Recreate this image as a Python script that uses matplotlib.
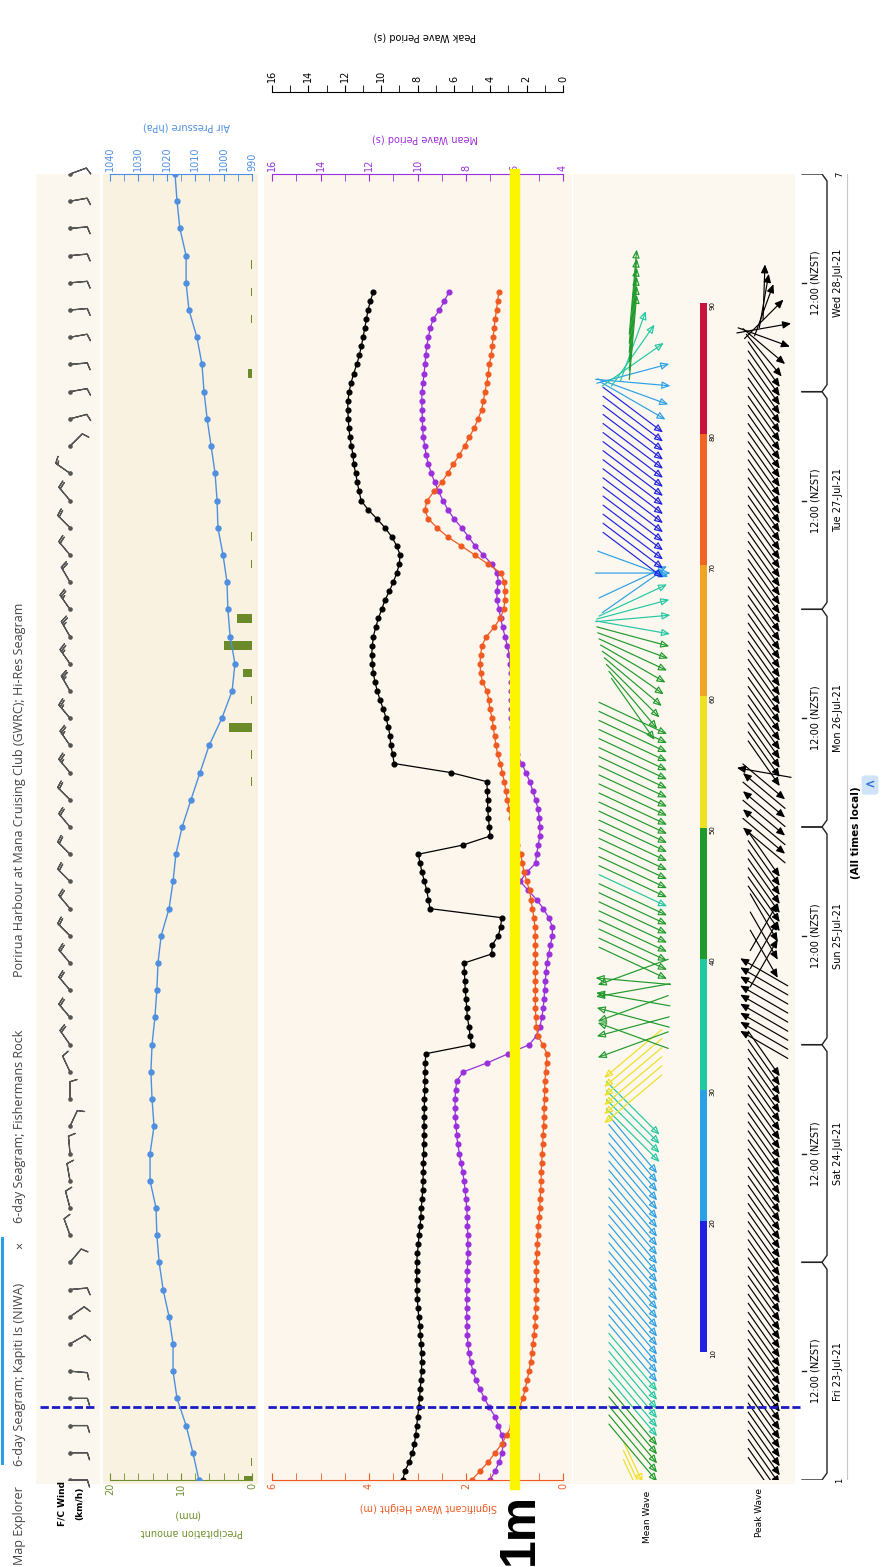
import numpy as np
import matplotlib
matplotlib.use("Agg")
import matplotlib.pyplot as plt
from matplotlib.patches import Rectangle, FancyArrowPatch
from matplotlib.colors import ListedColormap, BoundaryNorm
from matplotlib.cm import ScalarMappable

# ---------------- data (hours from Fri 23-Jul 00:00 NZST) ----------------
hours = np.arange(132)
hs = [1.88, 1.71, 1.54, 1.40, 1.26, 1.16, 1.06, 0.98, 0.90, 0.83,
      0.78, 0.74, 0.70, 0.67, 0.64, 0.62, 0.60, 0.58, 0.57, 0.56,
      0.56, 0.55, 0.55, 0.55, 0.55, 0.54, 0.53, 0.52, 0.51, 0.49,
      0.48, 0.47, 0.46, 0.45, 0.45, 0.44, 0.43, 0.42, 0.41, 0.40,
      0.39, 0.39, 0.38, 0.38, 0.37, 0.36, 0.34, 0.33, 0.42, 0.52,
      0.55, 0.56, 0.57, 0.57, 0.57, 0.57, 0.57, 0.57, 0.57, 0.57,
      0.57, 0.58, 0.60, 0.63, 0.66, 0.69, 0.75, 0.80, 0.84, 0.87,
      0.94, 0.99, 1.04, 1.08, 1.11, 1.15, 1.18, 1.21, 1.25, 1.29,
      1.35, 1.38, 1.41, 1.44, 1.46, 1.51, 1.53, 1.57, 1.66, 1.70,
      1.71, 1.70, 1.67, 1.58, 1.42, 1.30, 1.22, 1.20, 1.20, 1.21,
      1.28, 1.55, 1.82, 2.10, 2.38, 2.60, 2.78, 2.85, 2.80, 2.66,
      2.50, 2.38, 2.26, 2.14, 2.03, 1.93, 1.83, 1.75, 1.68, 1.64,
      1.61, 1.57, 1.54, 1.52, 1.48, 1.46, 1.44, 1.42, 1.40, 1.37,
      1.35, 1.32]
tm = [7.01, 6.80, 6.63, 6.52, 6.46, 6.53, 6.67, 6.80, 7.04, 7.24,
      7.42, 7.59, 7.71, 7.81, 7.88, 7.92, 7.95, 7.96, 7.97, 7.97,
      7.97, 7.97, 7.96, 7.95, 7.93, 7.92, 7.92, 7.93, 7.94, 7.95,
      7.97, 8.00, 8.04, 8.08, 8.14, 8.21, 8.27, 8.34, 8.38, 8.41,
      8.44, 8.45, 8.45, 8.43, 8.38, 8.11, 7.12, 6.26, 5.39, 5.09,
      4.95, 4.87, 4.82, 4.78, 4.76, 4.73, 4.70, 4.66, 4.59, 4.52,
      4.44, 4.44, 4.59, 4.81, 5.09, 5.43, 5.77, 5.50, 5.13, 5.09,
      5.02, 4.96, 4.95, 4.98, 5.03, 5.13, 5.25, 5.37, 5.53, 5.70,
      5.91, 6.02, 6.07, 6.10, 6.13, 6.14, 6.16, 6.16, 6.16, 6.16,
      6.19, 6.21, 6.30, 6.39, 6.49, 6.57, 6.64, 6.72, 6.73, 6.67,
      6.71, 6.94, 7.29, 7.63, 7.90, 8.18, 8.50, 8.75, 8.95, 9.13,
      9.29, 9.43, 9.55, 9.64, 9.70, 9.76, 9.79, 9.80, 9.81, 9.83,
      9.81, 9.77, 9.73, 9.69, 9.66, 9.62, 9.55, 9.48, 9.35, 9.10,
      8.89, 8.70]
tp = [8.81, 8.69, 8.45, 8.28, 8.17, 8.10, 8.04, 7.99, 7.93, 7.89,
      7.85, 7.81, 7.78, 7.77, 7.78, 7.80, 7.84, 7.88, 7.93, 7.98,
      8.01, 8.03, 8.04, 8.04, 8.04, 8.01, 7.95, 7.92, 7.86, 7.82,
      7.79, 7.75, 7.71, 7.70, 7.68, 7.68, 7.66, 7.66, 7.64, 7.64,
      7.64, 7.62, 7.62, 7.60, 7.60, 7.59, 7.57, 7.55, 5.02, 5.11,
      5.17, 5.26, 5.29, 5.33, 5.37, 5.40, 5.42, 5.44, 3.92, 3.89,
      3.56, 3.43, 3.37, 7.31, 7.40, 7.49, 7.62, 7.75, 7.86, 7.95,
      5.52, 4.01, 4.05, 4.10, 4.14, 4.14, 4.16, 4.19, 6.17, 9.29,
      9.36, 9.47, 9.51, 9.60, 9.73, 9.88, 10.06, 10.21, 10.34, 10.43,
      10.48, 10.52, 10.48, 10.43, 10.30, 10.15, 9.97, 9.79, 9.55, 9.33,
      9.14, 9.00, 8.96, 9.14, 9.42, 9.79, 10.24, 10.72, 11.10, 11.21,
      11.31, 11.40, 11.51, 11.54, 11.64, 11.71, 11.78, 11.80, 11.84, 11.82,
      11.76, 11.65, 11.51, 11.34, 11.20, 11.09, 10.99, 10.90, 10.81, 10.72,
      10.59, 10.43]

p_hours = np.arange(0, 145, 3)
pressure = [1008.7, 1010.8, 1013.2, 1016.4, 1017.8, 1017.8, 1019.2, 1021.3, 1022.7, 1023.5,
            1023.8, 1025.9, 1025.9, 1024.5, 1025.2, 1025.6, 1025.2, 1024.2, 1023.5, 1023.1,
            1022.0, 1019.2, 1017.8, 1016.8, 1014.6, 1011.5, 1008.3, 1005.1, 1000.6, 997.0,
            996.0, 997.7, 998.5, 998.8, 1000.2, 1002.0, 1002.3, 1003.0, 1004.4, 1005.8,
            1006.9, 1007.6, 1009.4, 1012.2, 1013.2, 1013.2, 1015.4, 1016.4, 1017.1]
precip_hours = [0, 2, 77, 80, 83, 86, 89, 92, 95, 101, 104, 122, 128, 131, 134]
precip_mm = [1.1, 0.2, 0.2, 0.2, 3.2, 0.2, 1.3, 3.9, 2.1, 0.2, 0.2, 0.5, 0.2, 0.2, 0.2]

wind_from = [180, 180, 180, 180, 185, 150, 145, 175, 130, 70,
             75, 80, 85, 115, 90, 65, 55, 50, 50, 50,
             45, 50, 45, 45, 50, 45, 50, 55, 50, 60,
             55, 60, 55, 60, 50, 45, 50, 35, 135, 165,
             170, 175, 170, 175, 175, 175, 175, 170, 160]
wind_kmh = [10, 10, 10, 10, 10, 10, 10, 10, 10, 12,
            12, 12, 12, 12, 12, 12, 18, 18, 18, 18,
            18, 18, 18, 18, 18, 18, 25, 25, 25, 25,
            25, 25, 25, 18, 18, 18, 18, 15, 10, 10,
            10, 10, 10, 10, 10, 10, 10, 10, 10]

# wave direction arrows: direction on the page (deg), length (px), colour value
mean_ang = ([-65] * 3 + [-50] * 35 + [-45] * 4 + [220] * 6
            + [200, 160, 195, 165, 200, 170, 190, 175, 200] + [-25] * 28
            + [-55, -50, -45, -40, -35, -30, -25, -20, -15, -10]
            + [5, 15, 25, 35, 25, 0, -20] + [-37] * 17
            + [-30, -20, -5, 15, 35, 55, 70] + [85] * 6)
mean_len = [45] * 3 + [75] * 123 + [85] * 6
mean_val = ([55] * 3 + [45] * 5 + [35] * 6 + [25] * 24 + [35] * 4 + [55] * 6 + [45] * 17
            + [35] + [45] * 28 + [35] * 4 + [25] * 4 + [15] * 17 + [25] * 4 + [35] * 3 + [45] * 6)
peak_ang = ([-55] * 48 + [150] * 9 + [60, -60, 60, -60, 60, -60] + [-55] * 7
            + [140, -40] * 4 + [170] + [-55] * 45
            + [-50, -40, -20, 10, 45, 70, 80, 88])

now_h = 8.0
day_labels = ["Fri 23-Jul-21", "Sat 24-Jul-21", "Sun 25-Jul-21",
              "Mon 26-Jul-21", "Tue 27-Jul-21", "Wed 28-Jul-21"]
cbar_ticks = [10, 20, 30, 40, 50, 60, 70, 80, 90]
cbar_colors = ["#1f22e0", "#2aa0e6", "#22c8a2", "#1f9a2c",
               "#efe022", "#f0a424", "#f06424", "#c8143a"]

# ---------------- layout helpers (pixel units) ----------------
W, H = 882, 1567
fig = plt.figure(figsize=(W / 100, H / 100), dpi=100)
TOP, BOT = 174, 1480
PXH = (BOT - TOP) / 144.0

def rect(x0, y0, x1, y1):
    return [x0 / W, 1 - y1 / H, (x1 - x0) / W, (y1 - y0) / H]

def time_axes(x0, x1):
    ax = fig.add_axes(rect(x0, TOP, x1, BOT))
    ax.set_ylim(0, 144)
    ax.set_facecolor("none")
    return ax

def ftext(x, y, s, rot=90, **kw):
    fig.text(x / W, 1 - y / H, s, rotation=rot, **kw)

def bg(x0, x1, color):
    fig.add_artist(Rectangle((x0 / W, 1 - 1484 / H), (x1 - x0) / W, (1484 - TOP) / H,
                             transform=fig.transFigure, color=color, lw=0, zorder=-5))

bg(36, 100, "#fbf7ee")
bg(103, 258, "#f9f2e1")
bg(264, 572, "#fcf6ec")
bg(573, 795, "#fcf7ef")

BLUE_DASH = "#1c1cc4"
dash = (0, (3, 1.1))

# ---------------- tab bar ----------------
tab = dict(fontsize=9, color="#444444", family="Open Sans", rotation_mode="anchor",
           ha="left", va="center")
ftext(20, 1565, "Map Explorer", **tab)
ftext(20, 1466, "6-day Seagram; Kapiti Is (NIWA)", **tab)
ftext(20, 1249, "\u00d7", **tab)
ftext(20, 1223, "6-day Seagram; Fishermans Rock", **tab)
ftext(20, 977, "Porirua Harbour at Mana Cruising Club (GWRC); Hi-Res Seagram", **tab)
fig.add_artist(Rectangle((1 / W, 1 - 1465 / H), 3 / W, 228 / H, transform=fig.transFigure,
                         color="#2b9fe6", lw=0))

# ---------------- wind barbs ----------------
axw = time_axes(40, 100)
axw.set_xlim(0, 60)
axw.axis("off")
th = np.deg2rad(wind_from)
spd = np.array(wind_kmh, float)
axw.barbs(np.full(len(p_hours), 30), p_hours, np.cos(th) * spd, -np.sin(th) * spd,
          length=5, pivot="tip", color="#555555", linewidth=0.9, clip_on=False)
axw.plot(np.full(len(p_hours), 30), p_hours, "o", ms=2.3, color="#555555")
axw.axhline(now_h, xmin=0, xmax=0.95, color=BLUE_DASH, lw=2, ls=dash)
ftext(62, 1503, "F/C Wind", fontsize=6.5, fontweight="bold", ha="center", va="center")
ftext(80, 1503, "(km/h)", fontsize=6.5, fontweight="bold", ha="center", va="center")

# ---------------- pressure / precipitation ----------------
OLIVE, PBLUE = "#6f8f2c", "#4f8fe0"
axp = time_axes(110, 252)
axp.set_xlim(20, 0)
axp.barh(precip_hours, precip_mm, height=0.95, color="#6b8a2a")
for s in ("top", "left", "right"):
    axp.spines[s].set_visible(False)
axp.spines["bottom"].set_color(OLIVE)
axp.set_xticks([0, 10, 20])
axp.set_xticks(np.arange(0, 21, 2), minor=True)
axp.tick_params(axis="x", which="both", direction="in", length=5, color=OLIVE,
                labelcolor=OLIVE, labelsize=7, labelrotation=90, pad=2)
axp.tick_params(axis="y", left=False, labelleft=False)
axp.axhline(now_h, xmin=0, xmax=1.03, color=BLUE_DASH, lw=2, ls=dash, clip_on=False)

axpr = axp.twiny()
axpr.set_xlim(1040, 990)
axpr.plot(pressure, p_hours, "-o", color=PBLUE, ms=3.6, lw=1)
for s in ("bottom", "left", "right"):
    axpr.spines[s].set_visible(False)
axpr.spines["top"].set_color(PBLUE)
axpr.set_xticks(np.arange(990, 1041, 10))
axpr.set_xticks(np.arange(990, 1041, 5), minor=True)
axpr.tick_params(axis="x", which="both", direction="in", length=5, color=PBLUE,
                 labelcolor=PBLUE, labelsize=7, labelrotation=90, pad=2)
ftext(187, 127, "Air Pressure (hPa)", rot=180, fontsize=7, color=PBLUE, ha="center", va="center")
ftext(187, 1515, "(mm)", rot=180, fontsize=7, color=OLIVE, ha="center", va="center")
ftext(192, 1532, "Precipitation amount", rot=180, fontsize=7, color=OLIVE, ha="center", va="center")

# ---------------- waves ----------------
ORANGE, PURPLE = "#f05a22", "#9a30dc"
axh = time_axes(272, 563)
axh.set_xlim(6, 0)
axm = axh.twiny()
axm.set_xlim(16, 4)
axk = axh.twiny()
axk.set_xlim(16, 0)
axk.set_zorder(1)
axm.set_zorder(2)
axh.set_zorder(3)
for a in (axm, axk):
    a.set_facecolor("none")

axk.plot(tp, hours, "-o", color="black", ms=3.4, lw=0.9)
axm.plot(tm, hours, "-o", color=PURPLE, ms=3.4, lw=0.9)
axh.plot(hs, hours, "-o", color=ORANGE, ms=3.4, lw=0.9)
axh.axvline(1.0, ymin=-0.004, ymax=1.0, color="#fbf600", lw=7.5, clip_on=False, zorder=5)
axh.axhline(now_h, xmin=-0.014, xmax=(800 - 272) / 291, color=BLUE_DASH, lw=2, ls=dash,
            clip_on=False, zorder=6)

for s in ("top", "left", "right"):
    axh.spines[s].set_visible(False)
axh.spines["bottom"].set_color(ORANGE)
axh.set_xticks([0, 2, 4, 6])
axh.set_xticks(np.arange(0, 6.01, 0.5), minor=True)
axh.tick_params(axis="x", which="both", direction="in", length=5, color=ORANGE,
                labelcolor=ORANGE, labelsize=7, labelrotation=90, pad=2)
axh.tick_params(axis="y", left=False, labelleft=False)

for s in ("bottom", "left", "right"):
    axm.spines[s].set_visible(False)
axm.spines["top"].set_color(PURPLE)
axm.set_xticks(np.arange(4, 17, 2))
axm.set_xticks(np.arange(4, 17, 1), minor=True)
axm.tick_params(axis="x", which="both", direction="in", length=5, color=PURPLE,
                labelcolor=PURPLE, labelsize=7, labelrotation=90, pad=2)

for s in ("bottom", "left", "right"):
    axk.spines[s].set_visible(False)
axk.spines["top"].set_position(("outward", 59))
axk.set_xticks(np.arange(0, 17, 2))
axk.set_xticks(np.arange(0, 17, 1), minor=True)
axk.tick_params(axis="x", which="both", direction="out", length=5, labelsize=7,
                labelrotation=90, pad=2)

ftext(428, 1507, "Significant Wave Height (m)", rot=180, fontsize=7, color=ORANGE,
      ha="center", va="center")
ftext(425, 138, "Mean Wave Period (s)", rot=180, fontsize=7, color=PURPLE, ha="center", va="center")
ftext(425, 37, "Peak Wave Period (s)", rot=180, fontsize=7, color="black", ha="center", va="center")
ftext(533, 1565, "1m", fontsize=36, fontweight="bold", rotation_mode="anchor",
      ha="left", va="baseline", family=["Liberation Sans", "DejaVu Sans"])

# ---------------- wave direction arrows ----------------
axa = time_axes(573, 800)
axa.set_xlim(0, 227)
axa.axis("off")
cmap = ListedColormap(cbar_colors)
norm = BoundaryNorm(cbar_ticks, cmap.N)

def arrows(xc, angs, lens, colors, fill):
    for h, a, L, c in zip(hours, angs, lens, colors):
        dx = L * np.cos(np.deg2rad(a))
        dy = L * np.sin(np.deg2rad(a)) / PXH
        p = FancyArrowPatch((xc - dx / 2, h - dy / 2), (xc + dx / 2, h + dy / 2),
                            arrowstyle="-|>,head_length=5,head_width=2.2",
                            shrinkA=0, shrinkB=0, lw=0.85, ec=c,
                            fc=c if fill else "none")
        axa.add_patch(p)

arrows(60, mean_ang, mean_len, [cmap(norm(v)) for v in mean_val], False)
arrows(191, peak_ang, [55] * len(hours), ["black"] * len(hours), True)

cax = fig.add_axes(rect(700, 303, 707, 1352))
cb = fig.colorbar(ScalarMappable(norm=norm, cmap=cmap), cax=cax, ticks=cbar_ticks)
cb.outline.set_visible(False)
cax.tick_params(length=0, labelsize=5, labelrotation=90, pad=2)
ftext(648, 1543, "Mean Wave", fontsize=6.5, rotation_mode="anchor", ha="left", va="center")
ftext(760, 1537, "Peak Wave", fontsize=6.5, rotation_mode="anchor", ha="left", va="center")

# ---------------- time axis ----------------
axt = time_axes(800, 850)
axt.set_xlim(0, 50)
axt.axis("off")
c = 7 / PXH
for d, lab in enumerate(day_labels):
    y0, y1 = 24 * d, 24 * (d + 1)
    axt.plot([2, 22, 27, 27, 22, 2], [y0, y0, y0 + c, y1 - c, y1, y1], color="#222222", lw=1)
    axt.plot([2, 6], [y0 + 12, y0 + 12], color="#222222", lw=1)
    axt.text(15, y0 + 12, "12:00 (NZST)", rotation=90, ha="center", va="center", fontsize=7)
    axt.text(38, y0 + 12, lab, rotation=90, ha="center", va="center", fontsize=7)
axt.plot([47, 47], [0, 144], color="#c8c8c8", lw=0.8)
axt.text(40, 0, "1", rotation=90, ha="center", va="center", fontsize=6)
axt.text(40, 144, "7", rotation=90, ha="center", va="center", fontsize=6)

ftext(856, 833, "(All times local)", fontsize=7.5, fontweight="bold", ha="center", va="center")
ftext(870, 785, "<", rot=0, fontsize=9, fontweight="bold", color="#2a6fd6", ha="center",
      va="center", bbox=dict(boxstyle="round,pad=0.25", fc="#cfe4f8", ec="none"))

fig.savefig("out.png", dpi=100)
